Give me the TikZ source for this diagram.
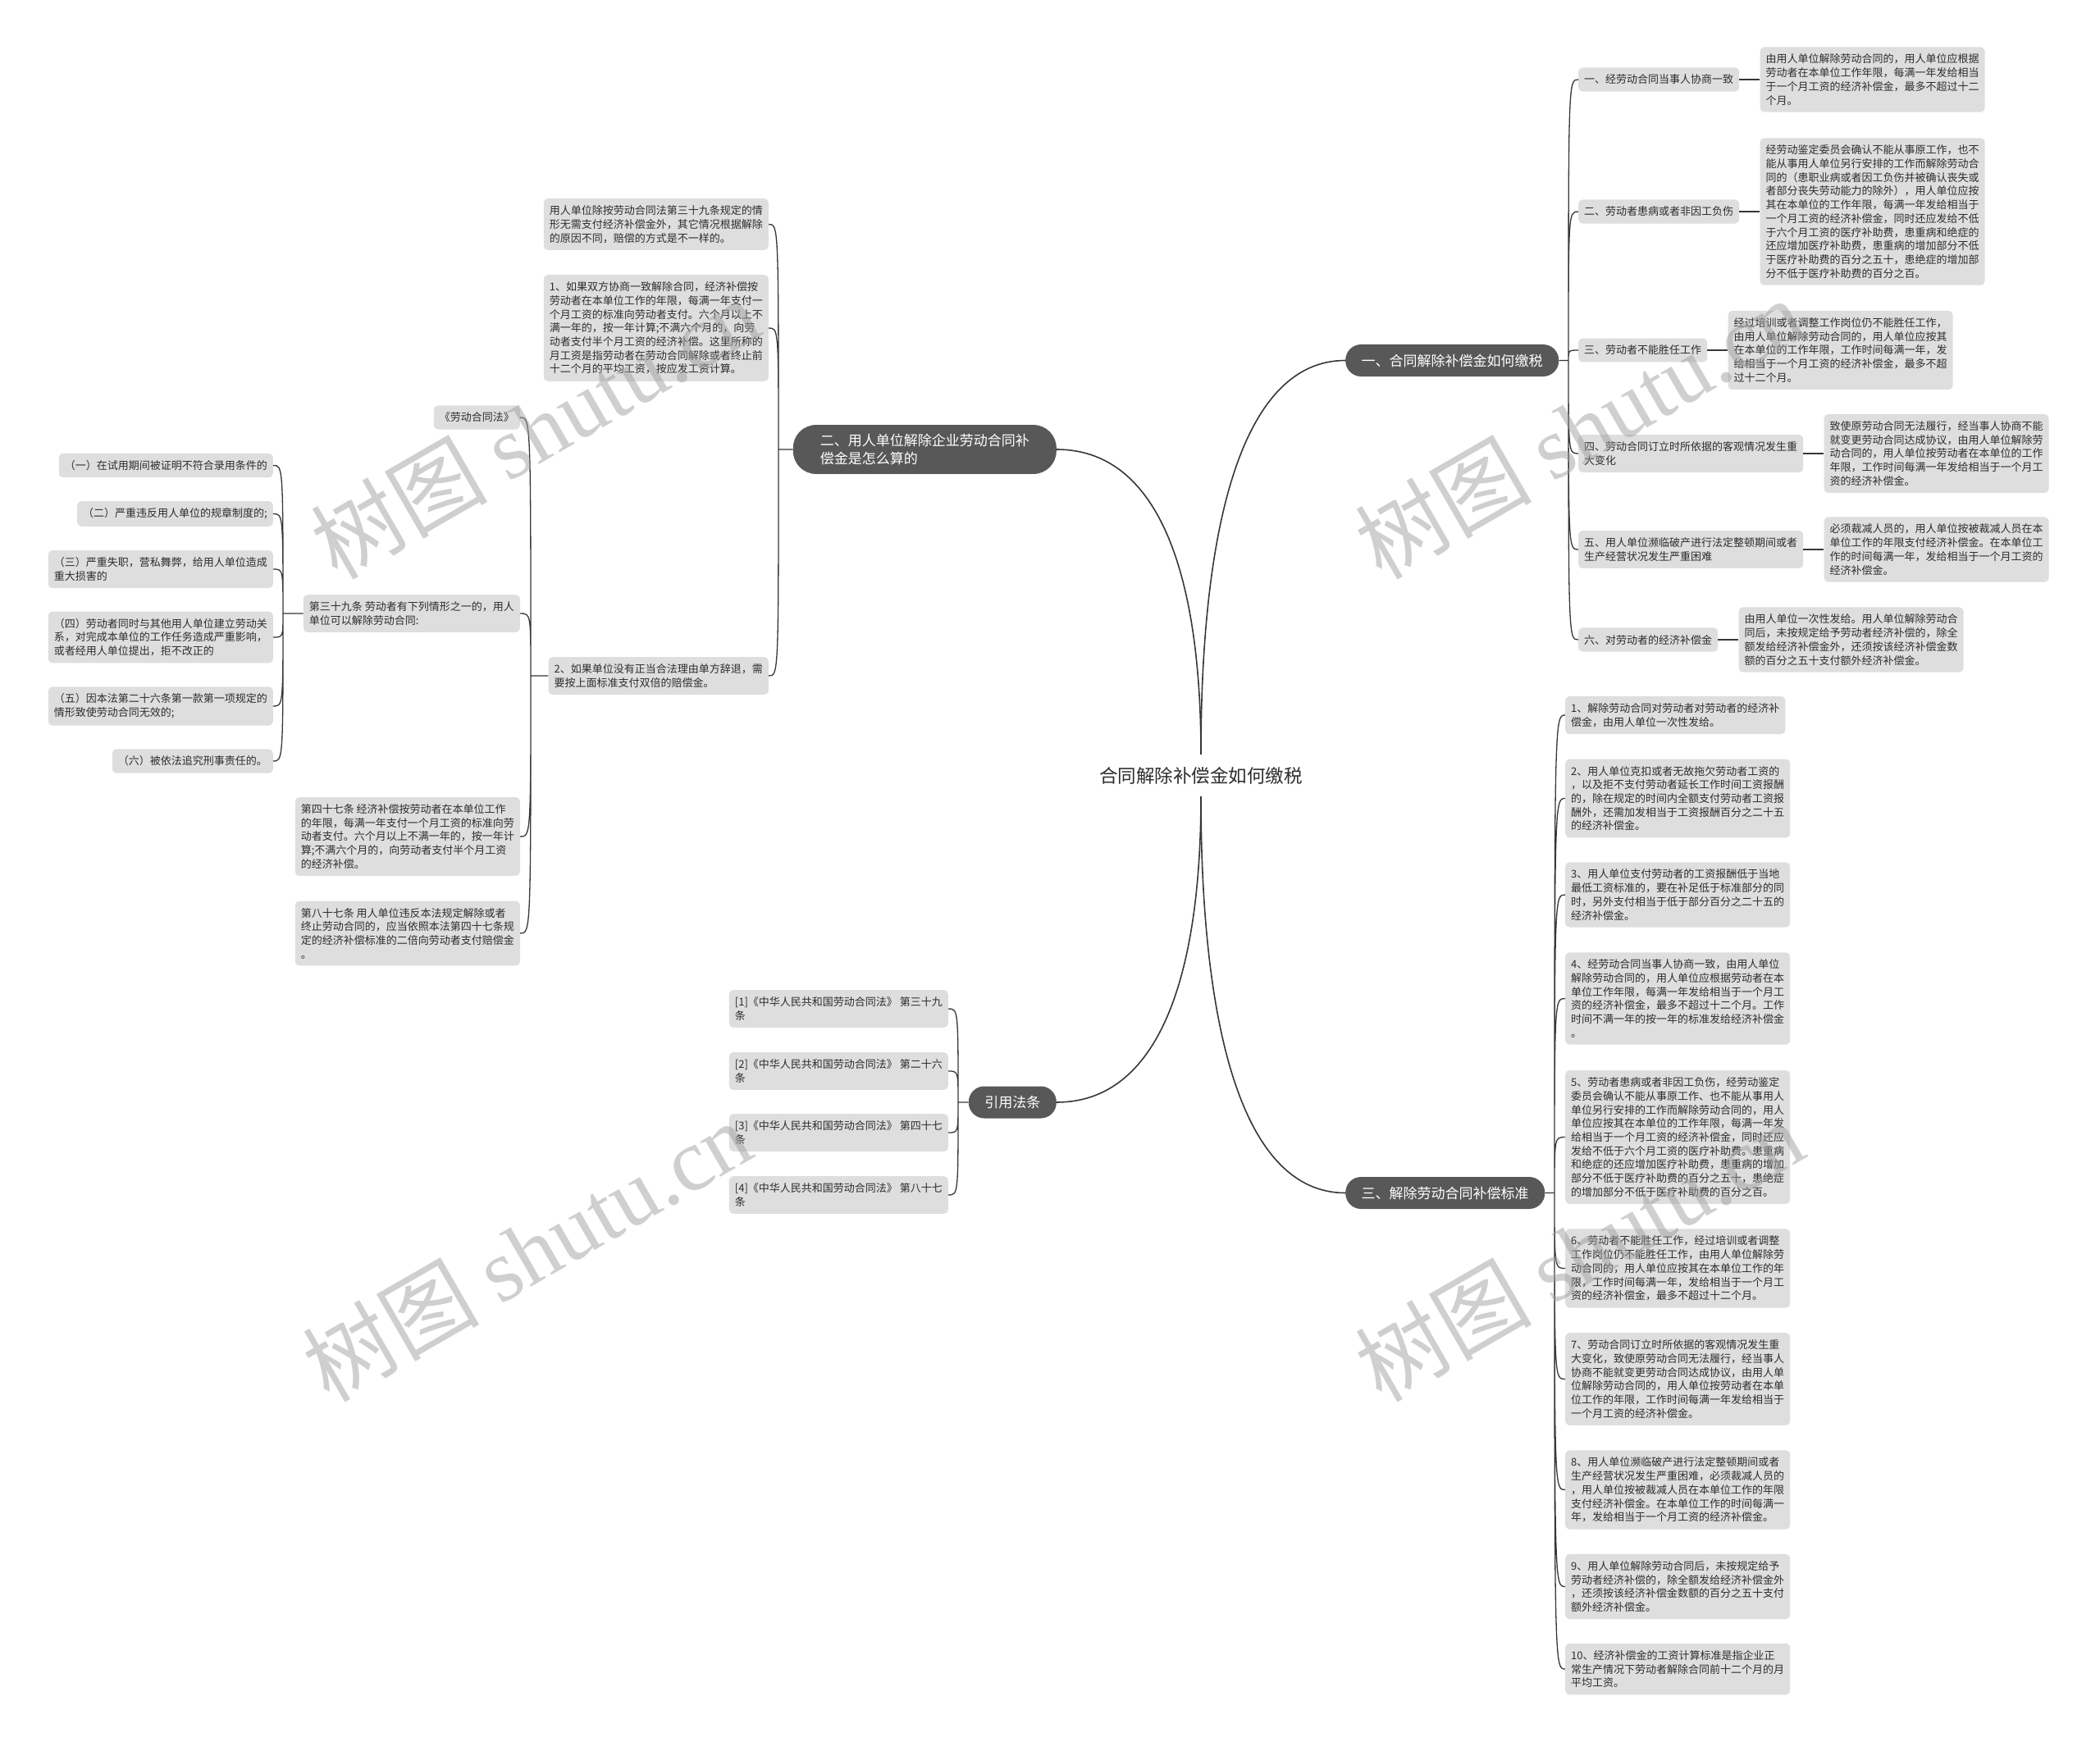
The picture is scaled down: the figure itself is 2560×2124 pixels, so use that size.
\documentclass[tikz,border=0pt]{standalone}
\usepackage{fontspec}
\setmainfont{Noto Sans CJK SC}
\newfontfamily\marklatin{Liberation Serif}
\usepackage{tikz}
\usetikzlibrary{positioning}
\definecolor{inkgray}{RGB}{45,45,45}
\definecolor{topicgray}{RGB}{88,88,88}
\definecolor{leafgray}{RGB}{222,222,222}
\definecolor{linkgray}{RGB}{55,55,55}
\definecolor{markgray}{RGB}{160,160,160}

\begin{document}
\begin{tikzpicture}[x=1pt, y=-1pt, node distance=25pt,
 every node/.style={text=inkgray},
 hubtext/.style={font=\fontsize{22.5}{27}\selectfont, inner xsep=0pt, inner ysep=15pt},
 topic/.style={fill=topicgray, text=white, font=\fontsize{17}{22}\selectfont, align=left, rounded corners=19pt, minimum height=39pt, inner xsep=19.5pt, inner ysep=11pt},
 leaf/.style={fill=leafgray, font=\fontsize{13}{16.7}\selectfont, align=left, rounded corners=5pt, inner xsep=7pt, inner ysep=8.5pt},
 trunk/.style={draw=linkgray, line width=1.6pt},
 twig/.style={draw=linkgray, line width=1.3pt},
 wmark/.style={text=markgray, text opacity=0.5, font=\fontsize{108}{108}\selectfont, rotate=30}]
\fill[white] (0,0) rectangle (2560,2124);
\useasboundingbox (0,0) rectangle (2560,2124);

% centre and main topics
\node[hubtext] (hub) at (1464,945.5) {合同解除补偿金如何缴税};
\node[topic, anchor=west] (one) at (1640,439.5) {一、合同解除补偿金如何缴税};
\node[topic, anchor=east, inner xsep=33pt, rounded corners=28pt] (two) at (1288,548) {二、用人单位解除企业劳动合同补\\偿金是怎么算的};
\node[topic, anchor=west] (three) at (1640,1454.5) {三、解除劳动合同补偿标准};
\node[topic, anchor=east] (cite) at (1288,1344) {引用法条};
\draw[trunk] (hub.north) .. controls +(0,-288) and +(-123,0) .. (one.west);
\draw[trunk] (hub.north) .. controls +(0,-223) and +(123,0) .. (two.east);
\draw[trunk] (hub.south) .. controls +(0,290) and +(-123,0) .. (three.west);
\draw[trunk] (hub.south) .. controls +(0,223) and +(123,0) .. (cite.east);

% branch one
\node[leaf, anchor=west] (one1) at (1924,97) {一、经劳动合同当事人协商一致};
\node[leaf, anchor=west] (one2) at (1924,258) {二、劳动者患病或者非因工负伤};
\node[leaf, anchor=west] (one3) at (1924,427) {三、劳动者不能胜任工作};
\node[leaf, anchor=west] (one4) at (1924,553) {四、劳动合同订立时所依据的客观情况发生重\\大变化};
\node[leaf, anchor=west] (one5) at (1924,670) {五、用人单位濒临破产进行法定整顿期间或者\\生产经营状况发生严重困难};
\node[leaf, anchor=west] (one6) at (1924,780) {六、对劳动者的经济补偿金};
\node[leaf, right=of one1] (one1x) {由用人单位解除劳动合同的，用人单位应根据\\劳动者在本单位工作年限，每满一年发给相当\\于一个月工资的经济补偿金，最多不超过十二\\个月。};
\node[leaf, right=of one2] (one2x) {经劳动鉴定委员会确认不能从事原工作，也不\\能从事用人单位另行安排的工作而解除劳动合\\同的（患职业病或者因工负伤并被确认丧失或\\者部分丧失劳动能力的除外），用人单位应按\\其在本单位的工作年限，每满一年发给相当于\\一个月工资的经济补偿金，同时还应发给不低\\于六个月工资的医疗补助费，患重病和绝症的\\还应增加医疗补助费，患重病的增加部分不低\\于医疗补助费的百分之五十，患绝症的增加部\\分不低于医疗补助费的百分之百。};
\node[leaf, right=of one3] (one3x) {经过培训或者调整工作岗位仍不能胜任工作，\\由用人单位解除劳动合同的，用人单位应按其\\在本单位的工作年限，工作时间每满一年，发\\给相当于一个月工资的经济补偿金，最多不超\\过十二个月。};
\node[leaf, right=of one4] (one4x) {致使原劳动合同无法履行，经当事人协商不能\\就变更劳动合同达成协议，由用人单位解除劳\\动合同的，用人单位按劳动者在本单位的工作\\年限，工作时间每满一年发给相当于一个月工\\资的经济补偿金。};
\node[leaf, right=of one5] (one5x) {必须裁减人员的，用人单位按被裁减人员在本\\单位工作的年限支付经济补偿金。在本单位工\\作的时间每满一年，发给相当于一个月工资的\\经济补偿金。};
\node[leaf, right=of one6] (one6x) {由用人单位一次性发给。用人单位解除劳动合\\同后，未按规定给予劳动者经济补偿的，除全\\额发给经济补偿金外，还须按该经济补偿金数\\额的百分之五十支付额外经济补偿金。};
\coordinate (oneJ) at (1912,439.5);
\draw[twig] (one.east) -- (oneJ)
  (oneJ) .. controls (oneJ |- one1.west) .. (one1.west)
  (oneJ) .. controls (oneJ |- one2.west) .. (one2.west)
  (oneJ) .. controls (oneJ |- one3.west) .. (one3.west)
  (oneJ) .. controls (oneJ |- one4.west) .. (one4.west)
  (oneJ) .. controls (oneJ |- one5.west) .. (one5.west)
  (oneJ) .. controls (oneJ |- one6.west) .. (one6.west);
\draw[twig] (one1) -- (one1x) (one2) -- (one2x) (one3) -- (one3x)
  (one4) -- (one4x) (one5) -- (one5x) (one6) -- (one6x);

% branch three
\node[leaf, anchor=west] (three1) at (1908,872) {1、解除劳动合同对劳动者对劳动者的经济补\\偿金，由用人单位一次性发给。};
\node[leaf, anchor=west] (three2) at (1908,973.5) {2、用人单位克扣或者无故拖欠劳动者工资的\\，以及拒不支付劳动者延长工作时间工资报酬\\的，除在规定的时间内全额支付劳动者工资报\\酬外，还需加发相当于工资报酬百分之二十五\\的经济补偿金。};
\node[leaf, anchor=west] (three3) at (1908,1091) {3、用人单位支付劳动者的工资报酬低于当地\\最低工资标准的，要在补足低于标准部分的同\\时，另外支付相当于低于部分百分之二十五的\\经济补偿金。};
\node[leaf, anchor=west] (three4) at (1908,1217.5) {4、经劳动合同当事人协商一致，由用人单位\\解除劳动合同的，用人单位应根据劳动者在本\\单位工作年限，每满一年发给相当于一个月工\\资的经济补偿金，最多不超过十二个月。工作\\时间不满一年的按一年的标准发给经济补偿金\\。};
\node[leaf, anchor=west] (three5) at (1908,1386.5) {5、劳动者患病或者非因工负伤，经劳动鉴定\\委员会确认不能从事原工作、也不能从事用人\\单位另行安排的工作而解除劳动合同的，用人\\单位应按其在本单位的工作年限，每满一年发\\给相当于一个月工资的经济补偿金，同时还应\\发给不低于六个月工资的医疗补助费。患重病\\和绝症的还应增加医疗补助费，患重病的增加\\部分不低于医疗补助费的百分之五十，患绝症\\的增加部分不低于医疗补助费的百分之百。};
\node[leaf, anchor=west] (three6) at (1908,1546.5) {6、劳动者不能胜任工作，经过培训或者调整\\工作岗位仍不能胜任工作，由用人单位解除劳\\动合同的，用人单位应按其在本单位工作的年\\限，工作时间每满一年，发给相当于一个月工\\资的经济补偿金，最多不超过十二个月。};
\node[leaf, anchor=west] (three7) at (1908,1681.5) {7、劳动合同订立时所依据的客观情况发生重\\大变化，致使原劳动合同无法履行，经当事人\\协商不能就变更劳动合同达成协议，由用人单\\位解除劳动合同的，用人单位按劳动者在本单\\位工作的年限，工作时间每满一年发给相当于\\一个月工资的经济补偿金。};
\node[leaf, anchor=west] (three8) at (1908,1816.5) {8、用人单位濒临破产进行法定整顿期间或者\\生产经营状况发生严重困难，必须裁减人员的\\，用人单位按被裁减人员在本单位工作的年限\\支付经济补偿金。在本单位工作的时间每满一\\年，发给相当于一个月工资的经济补偿金。};
\node[leaf, anchor=west] (three9) at (1908,1934.5) {9、用人单位解除劳动合同后，未按规定给予\\劳动者经济补偿的，除全额发给经济补偿金外\\，还须按该经济补偿金数额的百分之五十支付\\额外经济补偿金。};
\node[leaf, anchor=west] (three10) at (1908,2035) {10、经济补偿金的工资计算标准是指企业正\\常生产情况下劳动者解除合同前十二个月的月\\平均工资。};
\coordinate (threeJ) at (1895,1454.5);
\draw[twig] (three.east) -- (threeJ)
  (threeJ) .. controls (threeJ |- three1.west) .. (three1.west)
  (threeJ) .. controls (threeJ |- three2.west) .. (three2.west)
  (threeJ) .. controls (threeJ |- three3.west) .. (three3.west)
  (threeJ) .. controls (threeJ |- three4.west) .. (three4.west)
  (threeJ) .. controls (threeJ |- three5.west) .. (three5.west)
  (threeJ) .. controls (threeJ |- three6.west) .. (three6.west)
  (threeJ) .. controls (threeJ |- three7.west) .. (three7.west)
  (threeJ) .. controls (threeJ |- three8.west) .. (three8.west)
  (threeJ) .. controls (threeJ |- three9.west) .. (three9.west)
  (threeJ) .. controls (threeJ |- three10.west) .. (three10.west);

% branch two
\node[leaf, anchor=east] (two1) at (937,273.5) {用人单位除按劳动合同法第三十九条规定的情\\形无需支付经济补偿金外，其它情况根据解除\\的原因不同，赔偿的方式是不一样的。};
\node[leaf, anchor=east] (two2) at (937,400) {1、如果双方协商一致解除合同，经济补偿按\\劳动者在本单位工作的年限，每满一年支付一\\个月工资的标准向劳动者支付。六个月以上不\\满一年的，按一年计算;不满六个月的，向劳\\动者支付半个月工资的经济补偿。这里所称的\\月工资是指劳动者在劳动合同解除或者终止前\\十二个月的平均工资，按应发工资计算。};
\node[leaf, anchor=east] (two3) at (937,824) {2、如果单位没有正当合法理由单方辞退，需\\要按上面标准支付双倍的赔偿金。};
\coordinate (twoJ) at (949,548);
\draw[twig] (two.west) -- (twoJ)
  (twoJ) .. controls (twoJ |- two1.east) .. (two1.east)
  (twoJ) .. controls (twoJ |- two2.east) .. (two2.east)
  (twoJ) .. controls (twoJ |- two3.east) .. (two3.east);

\node[leaf, anchor=east] (law) at (634,509) {《劳动合同法》};
\node[leaf, anchor=east] (art39) at (634,748) {第三十九条 劳动者有下列情形之一的，用人\\单位可以解除劳动合同:};
\node[leaf, anchor=east] (art47) at (634,1020) {第四十七条 经济补偿按劳动者在本单位工作\\的年限，每满一年支付一个月工资的标准向劳\\动者支付。六个月以上不满一年的，按一年计\\算;不满六个月的，向劳动者支付半个月工资\\的经济补偿。};
\node[leaf, anchor=east] (art87) at (634,1138) {第八十七条 用人单位违反本法规定解除或者\\终止劳动合同的，应当依照本法第四十七条规\\定的经济补偿标准的二倍向劳动者支付赔偿金\\。};
\coordinate (artJ) at (647,824);
\draw[twig] (two3.west) -- (artJ)
  (artJ) .. controls (artJ |- law.east) .. (law.east)
  (artJ) .. controls (artJ |- art39.east) .. (art39.east)
  (artJ) .. controls (artJ |- art47.east) .. (art47.east)
  (artJ) .. controls (artJ |- art87.east) .. (art87.east);

\node[leaf, anchor=east] (case1) at (333,567.5) {（一）在试用期间被证明不符合录用条件的};
\node[leaf, anchor=east] (case2) at (333,626.5) {（二）严重违反用人单位的规章制度的;};
\node[leaf, anchor=east] (case3) at (333,694) {（三）严重失职，营私舞弊，给用人单位造成\\重大损害的};
\node[leaf, anchor=east] (case4) at (333,777) {（四）劳动者同时与其他用人单位建立劳动关\\系，对完成本单位的工作任务造成严重影响，\\或者经用人单位提出，拒不改正的};
\node[leaf, anchor=east] (case5) at (333,861) {（五）因本法第二十六条第一款第一项规定的\\情形致使劳动合同无效的;};
\node[leaf, anchor=east] (case6) at (333,928) {（六）被依法追究刑事责任的。};
\coordinate (caseJ) at (345,748);
\draw[twig] (art39.west) -- (caseJ)
  (caseJ) .. controls (caseJ |- case1.east) .. (case1.east)
  (caseJ) .. controls (caseJ |- case2.east) .. (case2.east)
  (caseJ) .. controls (caseJ |- case3.east) .. (case3.east)
  (caseJ) .. controls (caseJ |- case4.east) .. (case4.east)
  (caseJ) .. controls (caseJ |- case5.east) .. (case5.east)
  (caseJ) .. controls (caseJ |- case6.east) .. (case6.east);

% citations
\node[leaf, anchor=east] (ref1) at (1156,1230) {[1]《中华人民共和国劳动合同法》 第三十九\\条};
\node[leaf, anchor=east] (ref2) at (1156,1306) {[2]《中华人民共和国劳动合同法》 第二十六\\条};
\node[leaf, anchor=east] (ref3) at (1156,1381) {[3]《中华人民共和国劳动合同法》 第四十七\\条};
\node[leaf, anchor=east] (ref4) at (1156,1457) {[4]《中华人民共和国劳动合同法》 第八十七\\条};
\coordinate (citeJ) at (1168,1344);
\draw[twig] (cite.west) -- (citeJ)
  (citeJ) .. controls (citeJ |- ref1.east) .. (ref1.east)
  (citeJ) .. controls (citeJ |- ref2.east) .. (ref2.east)
  (citeJ) .. controls (citeJ |- ref3.east) .. (ref3.east)
  (citeJ) .. controls (citeJ |- ref4.east) .. (ref4.east);

% watermarks
\node[wmark] (wm1) at (652,522) {树图 {\marklatin shutu.cn}};
\node[wmark] (wm2) at (1925,522) {树图 {\marklatin shutu.cn}};
\node[wmark] (wm3) at (642,1525) {树图 {\marklatin shutu.cn}};
\node[wmark] (wm4) at (1925,1525) {树图 {\marklatin shutu.cn}};
\end{tikzpicture}
\end{document}
